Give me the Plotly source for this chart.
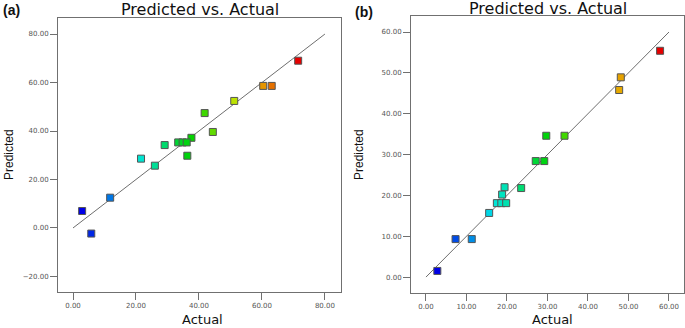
import plotly.graph_objects as go

# Panel (a) data
actual_a = [71.5, 60.4, 63.1, 51.2, 41.8, 44.4, 37.6, 33.4, 34.8, 36.1, 29.1, 36.3, 21.6, 26.0, 11.8, 2.9, 5.8]
pred_a   = [69.0, 58.6, 58.6, 52.4, 47.4, 39.6, 37.2, 35.3, 35.3, 35.3, 34.2, 29.8, 28.6, 25.7, 12.5, 7.0, -2.3]

# Panel (b) data
actual_b = [57.8, 48.1, 47.7, 29.7, 34.2, 27.1, 29.2, 19.4, 23.5, 18.8, 17.5, 18.6, 19.8, 15.6, 7.3, 11.3, 2.8]
pred_b   = [55.4, 48.9, 45.8, 34.6, 34.6, 28.4, 28.4, 22.0, 21.8, 20.2, 18.1, 18.1, 18.1, 15.7, 9.3, 9.3, 1.5]

ticks_a = [0, 20, 40, 60, 80]
yticks_a = [-20, 0, 20, 40, 60, 80]
ticks_b = [0, 10, 20, 30, 40, 50, 60]

title_text = "Predicted vs. Actual"
xlabel = "Actual"
ylabel = "Predicted"

cscale = [[0.0, "#0000e6"], [0.25, "#00e6e6"], [0.5, "#00d200"], [0.75, "#e6e600"], [1.0, "#e60000"]]

fig = go.Figure()

def add_panel(actual, pred, lim, xa, ya):
    fig.add_trace(go.Scatter(x=[0, lim], y=[0, lim], mode="lines",
                             line=dict(color="#6e6e6e", width=1),
                             xaxis=xa, yaxis=ya, showlegend=False, hoverinfo="skip"))
    fig.add_trace(go.Scatter(x=actual, y=pred, mode="markers",
                             marker=dict(symbol="square", size=7, color=actual,
                                         colorscale=cscale, cmin=min(actual), cmax=max(actual),
                                         showscale=False,
                                         line=dict(color="#555555", width=1)),
                             xaxis=xa, yaxis=ya, showlegend=False))

add_panel(actual_a, pred_a, 80, "x", "y")
add_panel(actual_b, pred_b, 60, "x2", "y2")

axis_common = dict(showgrid=False, zeroline=False, showline=True, mirror=True,
                   linecolor="#707070", linewidth=1, ticks="outside", ticklen=7,
                   tickcolor="#707070", tickformat=".2f",
                   tickfont=dict(family="DejaVu Sans", size=7, color="#555555"))

fig.update_layout(
    width=685, height=328,
    margin=dict(l=0, r=0, t=0, b=0),
    paper_bgcolor="white", plot_bgcolor="white",
    xaxis=dict(domain=[0.0847, 0.4978], range=[-4.76, 85.1], tickvals=ticks_a,
               anchor="y", **axis_common),
    yaxis=dict(domain=[0.1098, 0.945], range=[-26.4, 86.6], tickvals=yticks_a,
               anchor="x", **axis_common),
    xaxis2=dict(domain=[0.6, 0.9985], range=[-3.7, 63.7], tickvals=ticks_b,
                anchor="y2", **axis_common),
    yaxis2=dict(domain=[0.1067, 0.951], range=[-3.9, 63.9], tickvals=ticks_b,
                anchor="x2", **axis_common),
)

for a in [
    dict(text=title_text, x=199.5 / 685, y=1 - 9 / 328, font=dict(family="DejaVu Sans", size=16, color="#111111")),
    dict(text=title_text, x=548 / 685, y=1 - 8 / 328, font=dict(family="DejaVu Sans", size=16, color="#111111")),
    dict(text="<b>(a)</b>", x=11 / 685, y=1 - 10 / 328, font=dict(family="Liberation Sans", size=14, color="#111111")),
    dict(text="<b>(b)</b>", x=364 / 685, y=1 - 12 / 328, font=dict(family="Liberation Sans", size=14, color="#111111")),
    dict(text=xlabel, x=202 / 685, y=1 - 319 / 328, font=dict(family="DejaVu Sans", size=13, color="#111111")),
    dict(text=xlabel, x=552 / 685, y=1 - 319 / 328, font=dict(family="DejaVu Sans", size=13, color="#111111")),
    dict(text=ylabel, x=9 / 685, y=1 - 155 / 328, textangle=-90, font=dict(family="Liberation Sans", size=12, color="#111111")),
    dict(text=ylabel, x=359 / 685, y=1 - 155 / 328, textangle=-90, font=dict(family="Liberation Sans", size=12, color="#111111")),
]:
    a.update(xref="paper", yref="paper", showarrow=False, xanchor="center", yanchor="middle")
    fig.add_annotation(**a)

fig.write_html("out.html", config={"displayModeBar": False},
               post_script="document.body.style.margin='0';document.body.style.overflow='hidden';")
